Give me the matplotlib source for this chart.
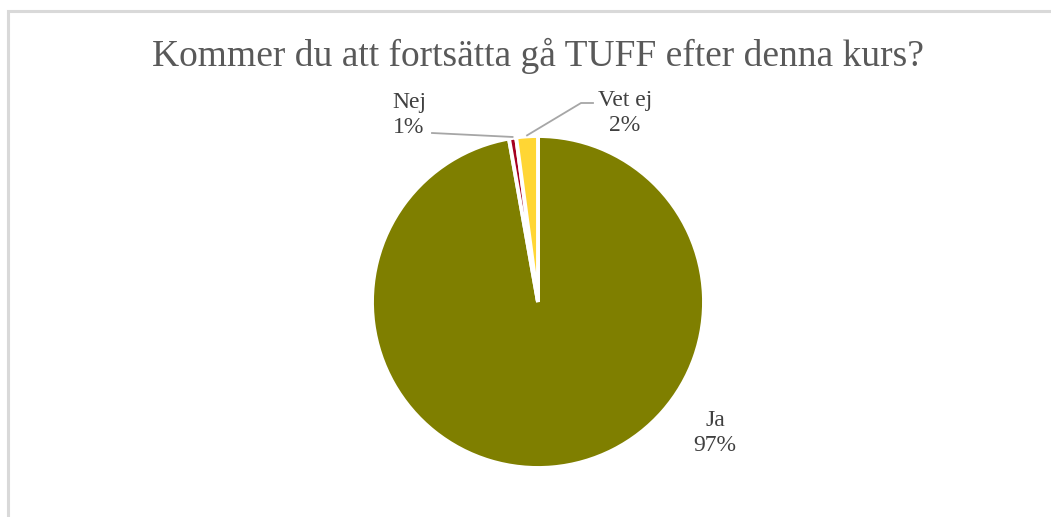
import matplotlib.pyplot as plt
import numpy as np

# survey answers (share of respondents, %)
labels = ['Ja', 'Nej', 'Vet ej']
values = [97.2, 0.7, 2.1]
colors = ['#7f7f00', '#a50021', '#ffd634']
title = 'Kommer du att fortsätta gå TUFF efter denna kurs?'

W, H = 1051, 517
fig = plt.figure(figsize=(W / 100, H / 100), dpi=100)
ax = fig.add_axes([0, 0, 1, 1])

cx, cy, r = 538, H - 302, 166
wedges, _ = ax.pie(values, colors=colors, startangle=90, counterclock=False,
                   center=(cx, cy), radius=r, frame=True,
                   wedgeprops=dict(edgecolor='white', linewidth=2.8))
ax.set_xlim(0, W)
ax.set_ylim(0, H)
ax.set_aspect('equal')
ax.axis('off')

# frame of the chart area (only left and top edges visible)
ax.plot([7.5, 7.5, W + 5], [-5, H - 10.5, H - 10.5], color='#d9d9d9', lw=2.2,
        solid_joinstyle='miter')

ax.text(cx, H - 56, title, ha='center', va='center', fontsize=27,
        color='#595959', family='Liberation Serif')

pct = [f'{round(v)}%' for v in values]
txt = dict(ha='center', va='center', fontsize=17, color='#404040',
           family='Liberation Serif', linespacing=1.2)
lbl_pos = [(715, H - 433), (409, H - 115), (625, H - 113)]
for name, p, (x, y) in zip(labels, pct, lbl_pos):
    ax.text(x, y, f'{name}\n{p}', **txt)

# leader lines from small slices to their labels
def edge_point(w):
    a = np.deg2rad((w.theta1 + w.theta2) / 2)
    return cx + r * np.cos(a), cy + r * np.sin(a)

ex, ey = edge_point(wedges[1])
ax.plot([432, ex], [H - 133, ey + 1], color='#a6a6a6', lw=1.3)
ex, ey = edge_point(wedges[2])
ax.plot([ex, 581, 593], [ey + 1, H - 103, H - 103], color='#a6a6a6', lw=1.3)

fig.savefig('out.png', dpi=100, facecolor='white')
